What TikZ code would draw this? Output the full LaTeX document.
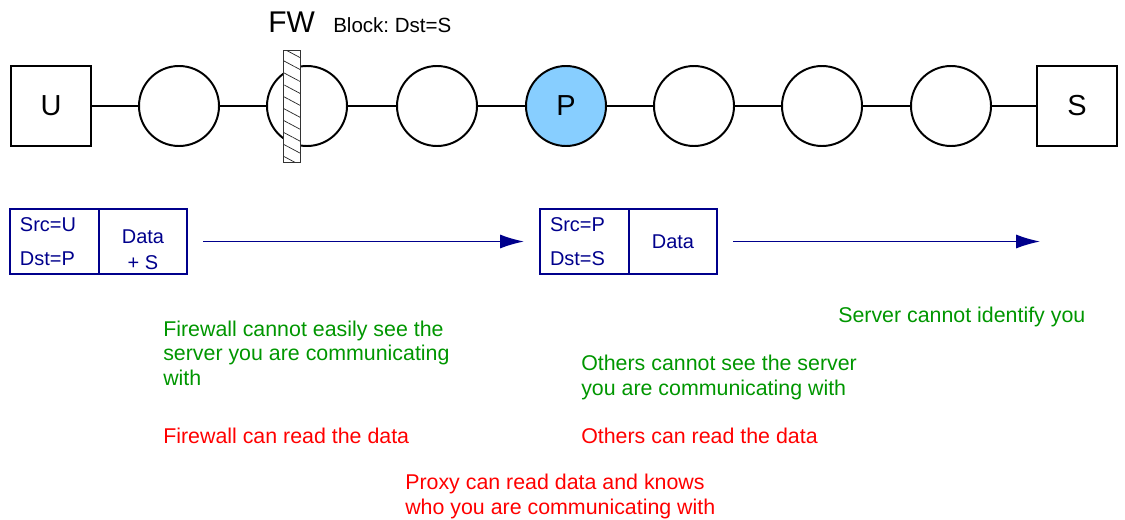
\documentclass[tikz,border=0pt]{standalone}
\usepackage{fontspec}
\setmainfont{Liberation Sans}
\usepackage{tikz-network}
\usetikzlibrary{positioning,arrows.meta,patterns.meta}
\definecolor{pktblue}{RGB}{0,0,140}
\definecolor{okgreen}{RGB}{0,150,0}
\definecolor{proxyblue}{RGB}{135,206,255}
\protected\def\chainfont{\fontsize{20.6pt}{24pt}\selectfont}
\tikzset{
	cell/.style={draw=pktblue,text=pktblue,line width=1.1pt,minimum height=1.625cm,inner sep=0pt,outer sep=0pt},
	srccell/.style={cell,minimum width=2.225cm,text width=1.725cm,inner xsep=0.25cm,align=left,font=\fontsize{14.2pt}{24pt}\selectfont},
	datacell/.style={cell,minimum width=2.2cm,align=center,font=\fontsize{14.2pt}{18.5pt}\selectfont},
	pktarrow/.style={draw=pktblue,line width=1pt,-{Latex[length=17pt,width=10pt]},shorten <=0.4cm},
	note/.style={anchor=base west,align=left,inner sep=0pt,font=\fontsize{15.2pt}{17.1pt}\selectfont}
}

\begin{document}
\begin{tikzpicture}
		\useasboundingbox (0,0) rectangle (28.125,12.975);
		\Vertex[x=1.275,y=10.325,size=2,shape=rectangle,color=white,label=U,fontsize=\chainfont,style={draw=black,line width=1.4pt}]{U}
		\Vertex[x=4.475,y=10.325,size=2,color=white,NoLabel,style={draw=black,line width=1.4pt}]{n1}
		\Vertex[x=7.675,y=10.325,size=2,color=white,NoLabel,style={draw=black,line width=1.4pt}]{n2}
		\Vertex[x=10.925,y=10.325,size=2,color=white,NoLabel,style={draw=black,line width=1.4pt}]{n3}
		\Vertex[x=14.15,y=10.325,size=2,color=proxyblue,label=P,fontsize=\chainfont,style={draw=black,line width=1.4pt}]{P}
		\Vertex[x=17.35,y=10.325,size=2,color=white,NoLabel,style={draw=black,line width=1.4pt}]{n5}
		\Vertex[x=20.55,y=10.325,size=2,color=white,NoLabel,style={draw=black,line width=1.4pt}]{n6}
		\Vertex[x=23.775,y=10.325,size=2,color=white,NoLabel,style={draw=black,line width=1.4pt}]{n7}
		\Vertex[x=26.925,y=10.325,size=2,shape=rectangle,color=white,label=S,fontsize=\chainfont,style={draw=black,line width=1.4pt}]{S}
		\Edge[lw=1.8,color=black](U)(n1)
		\Edge[lw=1.8,color=black](n1)(n2)
		\Edge[lw=1.8,color=black](n2)(n3)
		\Edge[lw=1.8,color=black](n3)(P)
		\Edge[lw=1.8,color=black](P)(n5)
		\Edge[lw=1.8,color=black](n5)(n6)
		\Edge[lw=1.8,color=black](n6)(n7)
		\Edge[lw=1.8,color=black](n7)(S)

		\node[draw=black!80,line width=0.6pt,preaction={fill=white},pattern={Lines[angle=-28,distance=7.5pt,line width=0.5pt]},pattern color=black!85,minimum width=0.425cm,minimum height=2.8cm,inner sep=0pt] (fw) at (7.2875,10.325) {};
		\node[anchor=base west,inner sep=0pt,font=\fontsize{21.3pt}{24pt}\selectfont] (fwlabel) at (6.7,12.175) {FW};
		\node[anchor=base west,inner sep=0pt,font=\fontsize{14.6pt}{16pt}\selectfont] (fwrule) at (8.325,12.175) {Block:\ Dst=S};

		\node[srccell] (src1) at (1.3625,6.9375) {Src=U\\Dst=P};
		\node[datacell,text height=40pt,right=0pt of src1] (data1) {Data\\+ S};
		\node[srccell] (src2) at (14.6125,6.9375) {Src=P\\Dst=S};
		\node[datacell,right=0pt of src2] (data2) {Data};
		\coordinate (pktend) at (26,6.9375);
		\draw[pktarrow,shorten >=0.4cm] (data1) -- (src2);
		\draw[pktarrow] (data2) -- (pktend);

		\node[note,text=okgreen] (fwsee) at (4.075,3.35) {Firewall cannot easily see the\\server you are communicating\\with};
		\node[note,text=red] (fwread) at (4.075,1.9) {Firewall can read the data};
		\node[note,text=red] (proxyread) at (10.125,0.125) {Proxy can read data and knows\\who you are communicating with};
		\node[note,text=okgreen] (serverid) at (20.95,4.925) {Server cannot identify you};
		\node[note,text=okgreen] (otherssee) at (14.525,3.1) {Others cannot see the server\\you are communicating with};
		\node[note,text=red] (othersread) at (14.525,1.9) {Others can read the data};
	\end{tikzpicture}
\end{document}
